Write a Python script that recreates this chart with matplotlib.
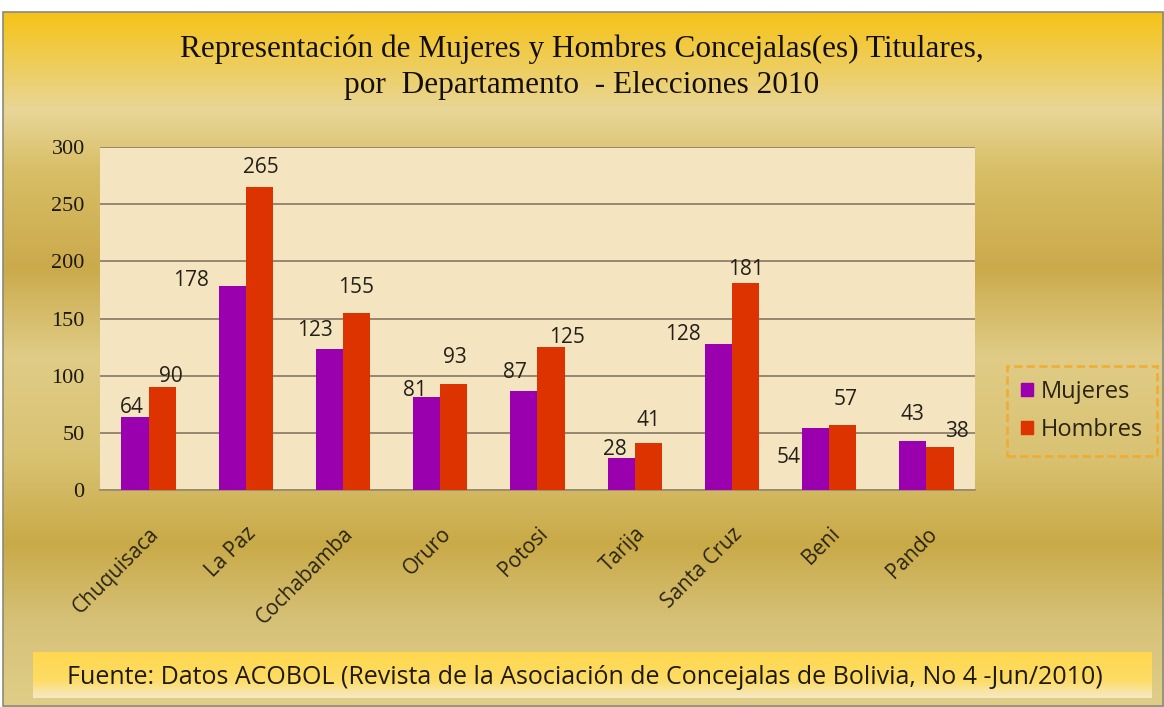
import matplotlib
matplotlib.use("Agg")
import matplotlib.pyplot as plt
import numpy as np
from matplotlib.patches import Patch, Rectangle

# data
departamentos = ['Chuquisaca', 'La Paz', 'Cochabamba', 'Oruro', 'Potosi',
                 'Tarija', 'Santa Cruz', 'Beni', 'Pando']
mujeres = [64, 178, 123, 81, 87, 28, 128, 54, 43]
hombres = [90, 265, 155, 93, 125, 41, 181, 57, 38]
y_ticks = [0, 50, 100, 150, 200, 250, 300]

title = ('Representación de Mujeres y Hombres Concejalas(es) Titulares,\n'
         'por  Departamento  - Elecciones 2010')
fuente = 'Fuente: Datos ACOBOL (Revista de la Asociación de Concejalas de Bolivia, No 4 -Jun/2010)'

# label offsets in pixels (dx, dy) from top of each bar
off_m = [(-3, 9), (-41, 6), (-15, 19), (-12, 7), (-9, 18), (-6, 8), (-35, 9), (-27, -29), (0, 26)]
off_h = [(9, 11), (1, 20), (-1, 25), (1, 26), (16, 10), (0, 23), (0, 14), (3, 25), (17, 15)]

W, H = 1164, 707
fig = plt.figure(figsize=(W / 100, H / 100), dpi=100, facecolor='white')

# background (pixel coords)
bg = fig.add_axes([0, 0, 1, 1], zorder=-10)
bg.set_xlim(0, W)
bg.set_ylim(H, 0)
bg.axis('off')

stops = [0, 15, 100, 160, 260, 350, 450, 540, 620, 707]
cols = ['#F4C21A', '#F4C62A', '#E8D698', '#D8BE66', '#CBAA4C', '#E0CC86',
        '#D9C272', '#C9AA48', '#D6C178', '#E0CE88']
rgb = np.array([matplotlib.colors.to_rgb(c) for c in cols])
yy = np.arange(H)
grad = np.stack([np.interp(yy, stops, rgb[:, k]) for k in range(3)], axis=-1)[:, None, :]
bg.imshow(grad, extent=[3, W, H, 12], aspect='auto', zorder=0)
bg.add_patch(Rectangle((3, 12), W - 4, H - 13, fill=False, ec='#8a8a7a', lw=1.2, zorder=2))

# footer band
fstops = [0, 28, 46]
fcols = ['#FFD84E', '#FDDC66', '#F4EACB']
frgb = np.array([matplotlib.colors.to_rgb(c) for c in fcols])
fy = np.arange(46)
fgrad = np.stack([np.interp(fy, fstops, frgb[:, k]) for k in range(3)], axis=-1)[:, None, :]
bg.imshow(fgrad, extent=[33, 1152, 698, 652], aspect='auto', zorder=1)
bg.text(585, 677, fuente, ha='center', va='center', fontsize=18,
        family='Open Sans', color='#1e1a10', zorder=3)

# title
fig.text(0.5, 0.905, title, ha='center', va='center', fontsize=22.5,
         family='Liberation Serif', color='#140f05', linespacing=1.3)

# main chart
ax = fig.add_axes([100 / W, 1 - 490 / H, 875 / W, 343 / H])
ax.set_facecolor('#F4E4C0')
x = np.arange(len(departamentos))
bw = 0.28
bm = ax.bar(x - bw / 2, mujeres, bw, color='#9A00AE', zorder=3)
bh = ax.bar(x + bw / 2, hombres, bw, color='#DD3300', zorder=3)

for i in range(len(departamentos)):
    ax.annotate(str(mujeres[i]), xy=(x[i] - bw / 2, mujeres[i]), xytext=off_m[i],
                textcoords='offset pixels', ha='center', va='center',
                fontsize=15, family='Open Sans', color='#222018', zorder=4)
    ax.annotate(str(hombres[i]), xy=(x[i] + bw / 2, hombres[i]), xytext=off_h[i],
                textcoords='offset pixels', ha='center', va='center',
                fontsize=15, family='Open Sans', color='#222018', zorder=4)

ax.set_xlim(-0.5, len(departamentos) - 0.5)
ax.set_ylim(0, 300)
ax.set_yticks(y_ticks)
ax.set_yticklabels([str(t) for t in y_ticks], family='Liberation Serif',
                   fontsize=16, color='#1e1a10')
ax.yaxis.grid(True, color='#8d806a', lw=1.3, zorder=1)
ax.set_axisbelow(True)
ax.tick_params(axis='y', length=0, pad=11)
ax.tick_params(axis='x', length=0, pad=24)
ax.set_xticks(x)
ax.set_xticklabels(departamentos, rotation=45, ha='right', rotation_mode='anchor',
                   family='Open Sans', fontsize=15, color='#2a2410')
for s in ['top', 'right', 'left']:
    ax.spines[s].set_visible(False)
ax.spines['bottom'].set_color('#9a8d70')
ax.spines['bottom'].set_linewidth(1.3)

# legend
handles = [Patch(color='#9A00AE', label='Mujeres'), Patch(color='#DD3300', label='Hombres')]
leg = fig.legend(handles=handles, loc='center', bbox_to_anchor=(1082 / W, 1 - 411 / H),
                 prop={'family': 'Open Sans', 'size': 17}, handlelength=0.5,
                 handleheight=0.5, handletextpad=0.35, labelspacing=0.6,
                 borderpad=0.6, fancybox=False)
frame = leg.get_frame()
frame.set_facecolor('none')
frame.set_edgecolor('#F2A828')
frame.set_linestyle((0, (3, 1.5)))
frame.set_linewidth(2)
for t in leg.get_texts():
    t.set_color('#2a2410')

fig.savefig('out.png', dpi=100, facecolor='white')
